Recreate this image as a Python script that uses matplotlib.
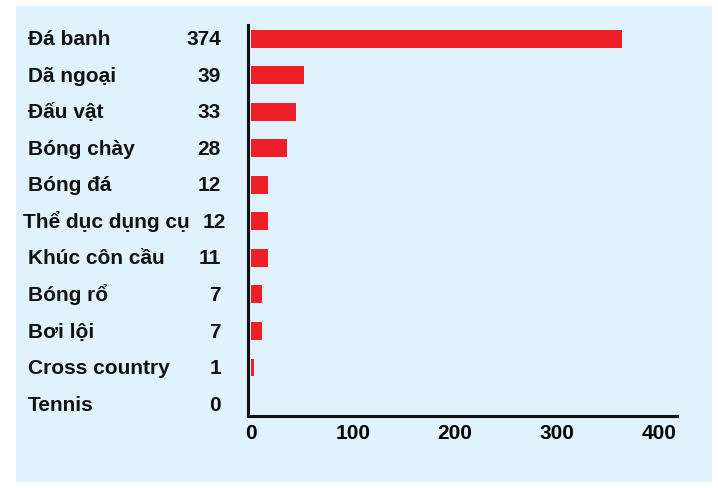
import matplotlib.pyplot as plt
import matplotlib.transforms as mtransforms
from matplotlib.patches import Rectangle

# sports and the counts printed next to them
sports = ["Đá banh", "Dã ngoại", "Đấu vật", "Bóng chày", "Bóng đá",
          "Thể dục dụng cụ", "Khúc côn cầu", "Bóng rổ", "Bơi lội",
          "Cross country", "Tennis"]
counts = [374, 39, 33, 28, 12, 12, 11, 7, 7, 1, 0]
# bar lengths as drawn in the picture (on the 0-400 axis)
bar_lengths = [364, 52, 44, 35, 17, 17, 17, 11, 11, 2.4, 0]
xticks = [0, 100, 200, 300, 400]

plt.rcParams['font.family'] = ['Liberation Sans', 'DejaVu Sans']
plt.rcParams['font.weight'] = 'bold'

W, H = 718, 488
FS = 15
fig = plt.figure(figsize=(W / 100, H / 100), dpi=100, facecolor='white')

# light blue panel behind everything
fig.patches.append(Rectangle((16 / W, 6 / H), (712 - 16) / W, (482 - 6) / H,
                             transform=fig.transFigure, facecolor='#E0F2FC',
                             edgecolor='none', zorder=-1))

# axes box in pixels: left 248, right 677, top 25, bottom 416
ax = fig.add_axes([248 / W, (H - 416) / H, (677 - 248) / W, (416 - 25) / H])
ax.set_facecolor('none')

pos = list(range(len(sports)))
ax.barh(pos, bar_lengths, height=0.49, color='#EE1F26', left=0)

ax.set_xlim(-3, 417.6)
ax.set_ylim(10.33, -0.38)

ax.set_xticks(xticks)
ax.set_xticklabels([str(t) for t in xticks], fontsize=FS, fontweight='bold')
ax.tick_params(axis='x', length=0, pad=6)
ax.set_yticks([])

for s in ['top', 'right']:
    ax.spines[s].set_visible(False)
for s in ['left', 'bottom']:
    ax.spines[s].set_linewidth(2.2)
    ax.spines[s].set_color('#111111')

# names and counts in the left margin
trans = mtransforms.blended_transform_factory(fig.transFigure, ax.transData)
off = 0.18
for i, (name, c) in enumerate(zip(sports, counts)):
    nx, vx = 28, 221
    if name == "Thể dục dụng cụ":
        nx, vx = 23, 226
    ax.text(nx / W, i + off, name, transform=trans, ha='left', va='baseline',
            fontsize=FS, fontweight='bold', color='#111111', clip_on=False)
    ax.text(vx / W, i + off, str(c), transform=trans, ha='right', va='baseline',
            fontsize=FS, fontweight='bold', color='#111111', clip_on=False)

fig.savefig('out.png', dpi=100, facecolor='white')
